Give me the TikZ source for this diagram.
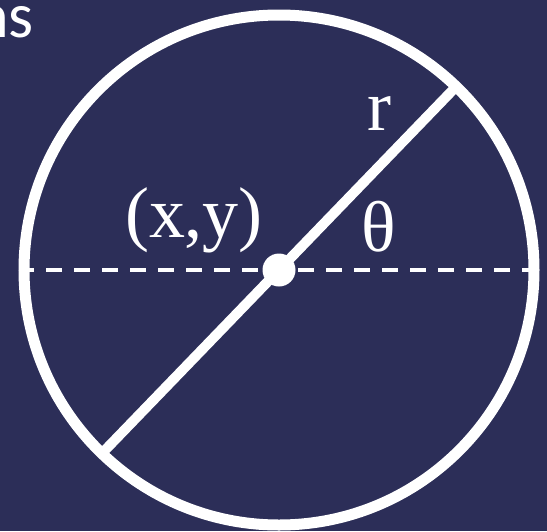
\documentclass[tikz,border=0pt]{standalone}
\usepackage{fontspec}
\setmainfont{Liberation Serif}
\newfontfamily\titlefont{Carlito}
\definecolor{bgnavy}{RGB}{44,46,88}
\begin{document}
\begin{tikzpicture}[x=1pt,y=-1pt,
  wline/.style={draw=white,line width=10pt},
  rim/.style={draw=white,line width=11pt},
  axisline/.style={draw=white,line width=4.5pt,dash pattern=on 16pt off 12pt,dash phase=6pt},
  lbl/.style={text=white,inner sep=0pt,font=\fontsize{72}{72}\selectfont},
  ttl/.style={text=white,inner sep=0pt,font=\titlefont\fontsize{64}{64}\selectfont}]
\useasboundingbox (0,0) rectangle (547,531);
\clip (0,0) rectangle (547,531);
\fill[bgnavy] (0,0) rectangle (547,531);
\coordinate (O) at (279,270);
\coordinate (L) at (24,270);
\coordinate (R) at (534,270);
\coordinate (A) at (456.1,86.6);
\coordinate (B) at (101.9,453.4);
\draw[axisline] (L) -- (R);
\draw[rim] (O) circle[radius=255];
\draw[wline] (B) -- (A);
\node[circle,fill=white,minimum size=33pt,inner sep=0pt] (dot) at (O) {};
\node[ttl,anchor=base east] (title) at (34,37) {ns};
\node[lbl,anchor=base] (xy) at (194,237) {(x,y)};
\node[lbl,anchor=base] (theta) at (379,251) {θ};
\node[lbl,anchor=base] (r) at (379,130) {r};
\end{tikzpicture}
\end{document}
